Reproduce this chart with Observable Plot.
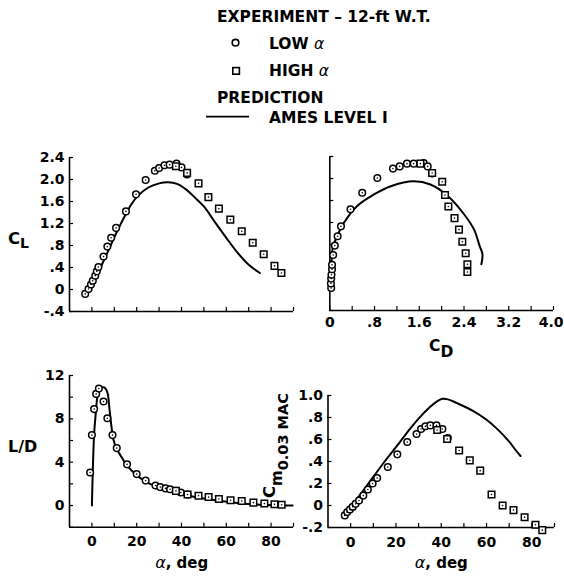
<!DOCTYPE html>
<html><head><meta charset="utf-8">
<script src="https://cdn.jsdelivr.net/npm/d3@7"></script>
<script src="https://cdn.jsdelivr.net/npm/@observablehq/plot@0.6"></script>
<style>
body{margin:0;background:#fff;}
#wrap{position:relative;width:564px;height:579px;overflow:hidden;font-family:"DejaVu Sans",sans-serif;}
#wrap svg{position:absolute;overflow:visible;}
</style></head><body><div id="wrap"></div>
<script>
// ---- C_L vs alpha ----
const clLowAlpha = [-3.0,-1.5,-0.4,0.4,1.5,2.2,2.9,5.2,6.9,8.6,10.8,15.2,19.7,24.0,28.1,30.0,32.4,34.7,37.8,40.0,42.5];
const clLow      = [-0.08,0.01,0.09,0.16,0.25,0.33,0.41,0.60,0.78,0.94,1.12,1.42,1.73,1.99,2.16,2.21,2.26,2.27,2.29,2.22,2.09];
const clHighAlpha = [37.5,42.5,47.6,52.0,56.7,61.8,66.9,71.8,76.7,81.5,84.6];
const clHigh      = [2.24,2.12,1.93,1.68,1.47,1.27,1.06,0.85,0.64,0.43,0.30];
const clPredAlpha = [-2,0,2.5,5,7.5,10,12.5,15,17.5,20,25,30,34,38,42,46,50,55,60,65,70,75];
const clPred      = [-0.05,0.08,0.27,0.50,0.72,0.95,1.16,1.36,1.54,1.68,1.85,1.93,1.95,1.92,1.82,1.67,1.51,1.22,0.94,0.67,0.45,0.30];

// ---- C_L vs C_D ----
const polLowCD  = [0.025,0.02,0.025,0.03,0.04,0.04,0.06,0.09,0.14,0.20,0.37,0.58,0.85,1.13,1.25,1.38,1.50,1.68,1.75,1.83];
const polLowCL  = [0.01,0.09,0.18,0.25,0.35,0.43,0.61,0.78,0.95,1.13,1.44,1.74,2.01,2.18,2.22,2.27,2.27,2.28,2.22,2.09];
const polHighCD = [1.62,1.83,2.01,2.06,2.12,2.23,2.31,2.37,2.43,2.46,2.46];
const polHighCL = [2.27,2.10,1.94,1.70,1.49,1.28,1.07,0.85,0.64,0.44,0.30];
const polPredCD = [0.02,0.025,0.035,0.05,0.13,0.25,0.49,0.79,1.09,1.50,1.80,2.10,2.40,2.58,2.68,2.73,2.71];
const polPredCL = [0.0,0.30,0.55,0.72,0.95,1.19,1.50,1.71,1.86,1.95,1.89,1.69,1.35,1.07,0.77,0.62,0.44];

// ---- L/D vs alpha ----
const ldLowAlpha = [-0.8,0.0,1.0,1.9,3.1,5.2,6.9,9.2,11.1,15.7,20.0,24.0,28.4,30.5,32.9,34.9,37.5,39.7,42.7];
const ldLow      = [3.05,6.5,8.9,10.3,10.8,9.6,8.05,6.5,5.3,3.8,2.9,2.3,1.85,1.7,1.58,1.5,1.35,1.2,1.02];
const ldHighAlpha = [37.5,42.7,47.6,52.1,56.7,61.9,66.9,72.1,77.0,81.5,84.7];
const ldHigh      = [1.35,1.02,0.90,0.78,0.60,0.48,0.42,0.27,0.18,0.11,0.07];
const ldPredAlpha = [0,0.4,1.0,1.8,2.5,3.6,5.5,6.9,7.8,8.6,9.6,11.1,13.3,15.6,20,24.4,33.3,42.2,51.1,62.9,74.8,89.6];
const ldPred      = [0,3.2,6.6,8.7,10.1,10.8,10.9,10.45,9.0,7.5,6.1,5.2,4.45,3.7,2.8,2.15,1.4,0.95,0.6,0.28,0.08,0.0];

// ---- Cm vs alpha ----
const cmLowAlpha = [-2.6,-1.5,-0.3,0.9,2.2,3.7,5.6,7.6,9.7,11.7,16.4,20.6,25.0,29.1,31.1,33.0,35.2,37.9,40.5,42.9];
const cmLow      = [-0.09,-0.06,-0.036,-0.012,0.015,0.045,0.09,0.145,0.20,0.25,0.35,0.465,0.577,0.65,0.695,0.72,0.728,0.728,0.695,0.613];
const cmHighAlpha = [38.2,42.6,47.9,52.6,57.2,62.2,67.1,71.9,76.8,81.6,84.6];
const cmHigh      = [0.686,0.604,0.50,0.41,0.317,0.10,0.0,-0.042,-0.106,-0.175,-0.224];
const cmPredAlpha = [-2.2,0,5,10,15,20,25,30,35,38,40.5,43,47,54,60,65,70,73,75];
const cmPred      = [-0.066,-0.01,0.12,0.26,0.40,0.53,0.665,0.79,0.895,0.945,0.97,0.965,0.93,0.86,0.78,0.69,0.58,0.50,0.45];

// ---- ticks ----
const alphaLabels = [0,20,40,60,80];
const alphaTicks  = [0,10,20,30,40,50,60,70,80,90];
const clLabels = [-0.4,0,0.4,0.8,1.2,1.6,2.0,2.4];
const cdLabels = [0,0.8,1.6,2.4,3.2];
const cdLabelsEnd = [4.0];
const cdTicks  = [0,0.4,0.8,1.2,1.6,2.0,2.4,2.8,3.2,3.6,4.0];
const ldLabels = [0,4,8,12];
const ldTicks  = [-2,0,2,4,6,8,10,12];
const cmLabels = [-0.2,0,0.2,0.4,0.6,0.8,1.0];

const fmtDec = d => {
  if (Math.abs(d) < 1e-9) return "0";
  const s = Math.abs(d).toFixed(1);
  const t = Math.abs(d) < 1 ? s.replace(/^0/, "") : s;
  return (d < 0 ? "-" : "") + t;
};
const fmtInt = d => String(d);

const zip = (a, b) => a.map((v, i) => ({x: v, y: b[i]}));
const wrap = document.getElementById("wrap");

function panel(o) {
  const innerW = o.width - o.ml - o.mr, innerH = o.height - o.mt - o.mb;
  const low = zip(o.lowX, o.lowY), high = zip(o.highX, o.highY), pred = zip(o.predX, o.predY);
  const marks = [
    Plot.ruleX([o.xd[0]], {strokeWidth: 1.6}),
    Plot.ruleY([o.yd[0]], {strokeWidth: 1.6}),
    Plot.tickX(o.xTicks, {x: d => d, insetTop: innerH - 4, strokeWidth: 1.2}),
    Plot.tickY(o.yTicks, {y: d => d, insetRight: innerW - 4, strokeWidth: 1.2}),
    Plot.axisY(o.yLabels, {tickSize: 0, tickPadding: 5, tickFormat: o.fmtY, label: null, fontSize: 14, fontWeight: "bold"}),
    Plot.line(pred, {x: "x", y: "y", curve: "catmull-rom", strokeWidth: 2, stroke: "black"}),
    Plot.dot(low, {x: "x", y: "y", r: 3.3, stroke: "black", strokeWidth: 1.5, fill: "white"}),
    Plot.dot(low, {x: "x", y: "y", r: 0.8, fill: "black"}),
    Plot.dot(high, {x: "x", y: "y", symbol: "square", r: 3.7, stroke: "black", strokeWidth: 1.5, fill: "white"}),
    Plot.dot(high, {x: "x", y: "y", r: 0.8, fill: "black"})
  ];
  if (o.xLabels) marks.push(Plot.axisX(o.xLabels, {tickSize: 0, tickPadding: o.xPad, tickFormat: o.fmtX, label: null, fontSize: 14, fontWeight: "bold"}));
  if (o.xLabelsEnd) marks.push(Plot.axisX(o.xLabelsEnd, {tickSize: 0, tickPadding: o.xPad, tickFormat: o.fmtX, label: null, fontSize: 14, fontWeight: "bold", textAnchor: "end", dx: 10}));
  const p = Plot.plot({
    width: o.width, height: o.height,
    marginLeft: o.ml, marginRight: o.mr, marginTop: o.mt, marginBottom: o.mb,
    x: {domain: o.xd, label: null, axis: o.xLabels ? undefined : null},
    y: {domain: o.yd, label: null},
    style: {fontFamily: "DejaVu Sans", fontSize: "14px", fontWeight: "bold", color: "black", background: "transparent", overflow: "visible"},
    marks
  });
  p.style.left = o.left + "px";
  p.style.top = o.top + "px";
  wrap.appendChild(p);
}

panel({left: 0, top: 140, width: 300, height: 200, ml: 69, mr: 7, mt: 17, mb: 29,
  xd: [-10, 90], yd: [-0.4, 2.4], xTicks: alphaTicks, yTicks: clLabels, yLabels: clLabels, fmtY: fmtDec,
  lowX: clLowAlpha, lowY: clLow, highX: clHighAlpha, highY: clHigh, predX: clPredAlpha, predY: clPred});

panel({left: 290, top: 140, width: 274, height: 220, ml: 39.3, mr: 11, mt: 16, mb: 50,
  xd: [0, 4], yd: [-0.4, 2.4], xTicks: cdTicks, yTicks: clLabels, yLabels: [], fmtY: fmtDec,
  xLabels: cdLabels, xLabelsEnd: cdLabelsEnd, fmtX: fmtDec, xPad: 7,
  lowX: polLowCD, lowY: polLowCL, highX: polHighCD, highY: polHighCL, predX: polPredCD, predY: polPredCL});

panel({left: 0, top: 360, width: 300, height: 219, ml: 69, mr: 7, mt: 15, mb: 52.3,
  xd: [-10, 90], yd: [-2, 12], xTicks: alphaTicks, yTicks: ldTicks, yLabels: ldLabels, fmtY: fmtInt,
  xLabels: alphaLabels, fmtX: fmtInt, xPad: 8.5,
  lowX: ldLowAlpha, lowY: ldLow, highX: ldHighAlpha, highY: ldHigh, predX: ldPredAlpha, predY: ldPred});

panel({left: 290, top: 370, width: 274, height: 209, ml: 37.5, mr: 10, mt: 25, mb: 52,
  xd: [-10, 90], yd: [-0.2, 1.0], xTicks: alphaTicks, yTicks: cmLabels, yLabels: cmLabels, fmtY: fmtDec,
  xLabels: alphaLabels, fmtX: fmtInt, xPad: 9.5,
  lowX: cmLowAlpha, lowY: cmLow, highX: cmHighAlpha, highY: cmHigh, predX: cmPredAlpha, predY: cmPred});

// ---- legend and axis titles ----
const NS = "http://www.w3.org/2000/svg";
const ov = document.createElementNS(NS, "svg");
ov.setAttribute("width", 564); ov.setAttribute("height", 579);
ov.style.left = "0px"; ov.style.top = "0px";
ov.innerHTML = `
<g font-family="DejaVu Sans" font-weight="bold" fill="black">
  <text x="217" y="21.7" font-size="15.5">EXPERIMENT – 12-ft W.T.</text>
  <circle cx="235.5" cy="42.7" r="3.3" fill="none" stroke="black" stroke-width="1.6"/>
  <text x="269" y="49" font-size="15.5">LOW <tspan font-style="italic" font-weight="normal">α</tspan></text>
  <rect x="232.8" y="67.6" width="6.6" height="6.6" fill="none" stroke="black" stroke-width="1.6"/>
  <text x="269" y="76" font-size="15.5">HIGH <tspan font-style="italic" font-weight="normal">α</tspan></text>
  <text x="217" y="102.7" font-size="15.5">PREDICTION</text>
  <line x1="206" x2="249" y1="116.7" y2="116.7" stroke="black" stroke-width="1.8"/>
  <text x="269" y="122.7" font-size="15.5">AMES LEVEL I</text>

  <text x="8" y="244" font-size="16.5">C<tspan font-size="14" dy="3.5">L</tspan></text>
  <text x="429" y="350.7" font-size="15.5">C<tspan font-size="15.5" dy="6">D</tspan></text>
  <text x="8" y="451.7" font-size="16">L/D</text>
  <text x="181.7" y="567.5" font-size="15" text-anchor="middle"><tspan font-style="italic" font-weight="normal" font-size="16">α</tspan>, deg</text>
  <text x="441.3" y="567.5" font-size="15" text-anchor="middle"><tspan font-style="italic" font-weight="normal" font-size="16">α</tspan>, deg</text>
  <text transform="translate(275,498) rotate(-90)" font-size="16.5">C<tspan font-size="15" dy="7">m</tspan><tspan font-size="14.5" dy="6">0.03 MAC</tspan></text>
</g>`;
wrap.appendChild(ov);
</script>
</body></html>
